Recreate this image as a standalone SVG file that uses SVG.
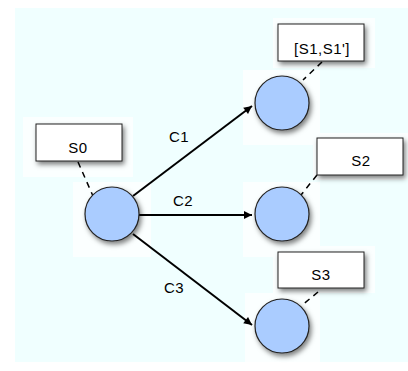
<svg xmlns="http://www.w3.org/2000/svg" width="408" height="371" viewBox="0 0 408 371">
<defs>
<filter id="sh" x="-30%" y="-30%" width="170%" height="170%">
<feDropShadow dx="2" dy="3" stdDeviation="2.5" flood-color="#000" flood-opacity="0.5"/>
</filter>
<marker id="ah" viewBox="0 0 10 10" refX="10" refY="5" markerWidth="10" markerHeight="8" markerUnits="userSpaceOnUse" orient="auto">
<path d="M0,0 L10,5 L0,10 z" fill="#000"/>
</marker>
<style>
.bg{fill:#f0ffff}
.pad{fill:#fbffff}
.node{fill:#aaccff;stroke:#222;stroke-width:1.2;filter:url(#sh)}
.box{fill:#fff;stroke:#222;stroke-width:1;filter:url(#sh)}
.dash{stroke:#000;stroke-width:1.5;stroke-dasharray:6,5;fill:none}
.edge{stroke:#000;stroke-width:2;fill:none;marker-end:url(#ah)}
text{font-family:"Liberation Sans",Arial,sans-serif;font-size:15px;letter-spacing:0.5px;fill:#000;text-anchor:middle}
</style>
</defs>
<rect class="bg" x="15" y="8" width="393" height="354"/>
<g id="pads">
<rect class="pad" x="23" y="117" width="110" height="60"/>
<rect class="pad" x="73" y="182" width="78" height="75"/>
<rect class="pad" x="273" y="18" width="102" height="50"/>
<rect class="pad" x="243" y="70" width="77" height="75"/>
<rect class="pad" x="313" y="133" width="95" height="47"/>
<rect class="pad" x="243" y="182" width="77" height="75"/>
<rect class="pad" x="273" y="246" width="102" height="47"/>
<rect class="pad" x="245" y="293" width="75" height="69"/>
</g>
<g id="connectors">
<line class="dash" x1="78" y1="162" x2="93" y2="196"/>
<line class="dash" x1="322" y1="62" x2="303" y2="80"/>
<line class="dash" x1="317" y1="175" x2="301" y2="195"/>
<line class="dash" x1="318" y1="292" x2="301" y2="306"/>
<line class="edge" x1="133" y1="196" x2="252" y2="106"/>
<line class="edge" x1="139" y1="215" x2="252" y2="215"/>
<line class="edge" x1="133" y1="234" x2="252" y2="325"/>
<text x="179" y="142">C1</text>
<text x="183" y="206">C2</text>
<text x="174" y="293">C3</text>
</g>
<g id="n0">
<circle class="node" cx="112" cy="214" r="27"/>
</g>
<g id="s0">
<rect class="box" x="36" y="124" width="86" height="37"/>
<text x="78" y="153">S0</text>
</g>
<g id="n1">
<circle class="node" cx="282" cy="103" r="27"/>
</g>
<g id="s1">
<rect class="box" x="278" y="24" width="86" height="37"/>
<text x="322" y="54">[S1,S1']</text>
</g>
<g id="n2">
<circle class="node" cx="282" cy="214" r="27"/>
</g>
<g id="s2">
<rect class="box" x="317" y="138" width="86" height="37"/>
<text x="361" y="166">S2</text>
</g>
<g id="n3">
<circle class="node" cx="282" cy="326" r="27"/>
</g>
<g id="s3">
<rect class="box" x="278" y="252" width="86" height="36"/>
<text x="321" y="280">S3</text>
</g>
</svg>
